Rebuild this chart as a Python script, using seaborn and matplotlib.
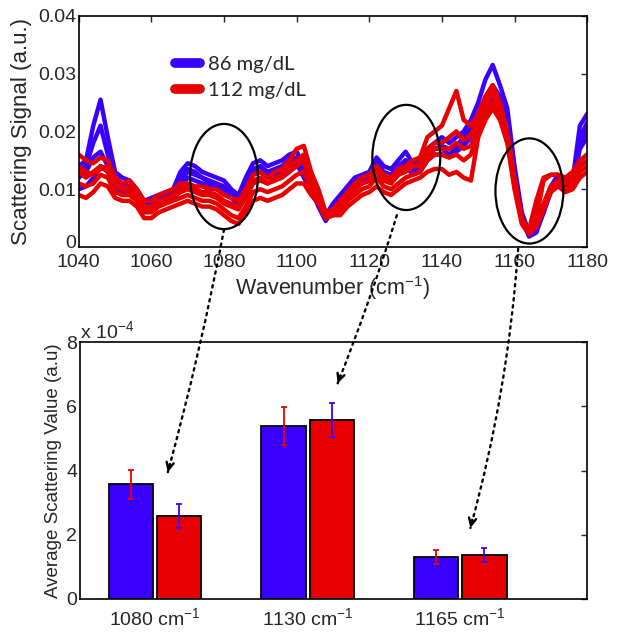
import numpy as np
import pandas as pd
import matplotlib.pyplot as plt
import seaborn as sns
from matplotlib.patches import Ellipse, ConnectionPatch
from matplotlib.transforms import ScaledTranslation

# wavenumber grid of the spectra (cm^-1)
wavenumber = np.arange(1040, 1181, 2)

# scattering spectra, in units of 1e-3 (a.u.)
blue_1 = [14, 15, 21, 25.5, 19, 13, 12, 11.5, 10, 8,
          8.5, 9, 9.5, 10, 13, 14.5, 14, 13, 12.5, 12,
          11.5, 10, 9, 12, 14.5, 15, 14, 14.5, 15, 16,
          16.5, 14, 12, 9, 5.5, 7.5, 9, 10.5, 12, 12.5,
          13, 15.5, 14, 13.5, 15, 16.5, 14.5, 15.5, 17, 18,
          19, 18, 19, 20, 22, 25, 29, 31.5, 28, 24,
          14, 6, 2.5, 3.5, 7, 10.5, 12.5, 11, 11.5, 21,
          23]
blue_2 = [13, 14, 18, 21, 16, 12, 11, 10.5, 9.5, 7.5,
          8, 8.5, 9, 9.5, 12, 13.5, 13, 12, 11.5, 11,
          10.5, 9, 8.5, 11, 13.5, 14, 13, 13.5, 14, 15,
          15.5, 13, 11, 8, 5, 7, 8.5, 10, 11.5, 12,
          12.5, 14.5, 13, 12.5, 14, 15, 13.5, 14.5, 16, 17,
          17.5, 17, 17.5, 19, 20.5, 23, 26, 28, 26, 22,
          13, 5.5, 2, 3, 6.5, 10, 12, 10.5, 11, 19,
          21.5]
blue_3 = [10, 10.5, 12, 14, 13, 10.5, 9.5, 9.5, 8.5, 7,
          7, 7.5, 8, 8.5, 10.5, 12, 11.5, 11, 10.5, 10,
          9.5, 8.5, 7.5, 10, 12.5, 13, 12, 12.5, 13, 14,
          14.5, 12, 10, 7, 4.5, 6.5, 8, 9, 10.5, 11,
          11.5, 13.5, 12, 11.5, 13, 14, 12.5, 13, 15, 16,
          16, 15.5, 16.5, 17.5, 19, 21, 24, 26, 24.5, 21,
          12, 5, 1.8, 2.5, 6, 9.5, 11.5, 10, 10.5, 17,
          19]
blue_4 = [12, 13, 15.5, 16.5, 14, 11, 10.5, 10, 9, 7.5,
          7.5, 8, 8.5, 9, 11.5, 13, 12.5, 12, 11, 10.5,
          10, 9, 8, 10.5, 13, 14, 12.5, 13, 14, 15,
          15, 12.5, 10.5, 7.5, 5, 7, 8.5, 9.5, 11, 11.5,
          12, 14, 12.5, 12, 13.5, 15, 13, 14, 15.5, 17,
          17, 16, 17, 18, 20, 22, 25, 27, 25, 22,
          12.5, 5.5, 2.2, 3, 6, 10, 12, 10.5, 11, 18,
          20]
red_1 = [16, 15, 14.5, 15.5, 15, 12, 11, 11.5, 10, 8,
         8, 9, 9.5, 10, 11, 11, 10.5, 10.5, 10, 10,
         9, 8.5, 8, 10, 12.5, 13, 12, 13, 13.5, 15,
         17, 17.5, 13, 10, 6, 6.5, 8, 9.5, 11, 12,
         12.5, 14, 12.5, 12, 13.5, 14, 15, 15.5, 19, 20,
         21, 24, 27, 22, 21, 23, 26, 28, 25, 20,
         12, 5, 2.5, 5, 11.5, 12.5, 12.5, 12, 13, 15,
         16]
red_2 = [13, 12, 13, 14, 13, 10.5, 10, 9.5, 8.5, 6.5,
         6.5, 7.5, 8, 8.5, 9.5, 10, 9.5, 9, 9, 8.5,
         7.5, 7, 6.5, 8.5, 11, 11.5, 11, 11.5, 12, 13,
         14, 15, 11, 9, 5.5, 6, 7.5, 9, 10, 11,
         11.5, 13, 11.5, 11, 12.5, 13, 14, 14.5, 17, 18,
         18, 19, 20, 18.5, 19.5, 22, 24.5, 26.5, 24, 19,
         11, 4.5, 2.5, 4, 7.5, 10.5, 11.5, 11, 12, 14,
         15]
red_3 = [9, 8.5, 9.5, 11, 10.5, 8.5, 8, 8, 7, 5,
         5, 6, 6.5, 7, 7.5, 8, 7.5, 7, 7, 6.5,
         5.5, 4.5, 4, 6, 8, 8.5, 8, 8.5, 9, 10,
         11, 11, 9, 7.5, 5, 5.5, 5.5, 7, 8, 9,
         9.5, 10.5, 9.5, 9, 10, 11, 11.5, 12, 13, 13.5,
         13.5, 12.5, 13, 12, 11.5, 19, 22, 24, 22, 18,
         10, 4, 2.2, 3.5, 6.5, 9.5, 10.5, 9.5, 10, 12,
         13]
red_4 = [11, 10.5, 11, 12.5, 12, 9.5, 9, 9, 8, 6,
         6, 7, 7.5, 8, 8.5, 9, 8.5, 8, 8, 7.5,
         6.5, 5.5, 5, 7, 9.5, 10, 9.5, 10, 10.5, 11.5,
         12.5, 13, 10, 8, 5, 5.5, 6.5, 8, 9, 10,
         10.5, 12, 10.5, 10, 11, 12, 12.5, 13, 15, 16,
         16, 15.5, 16, 15, 16, 20, 23, 25, 23, 19,
         10.5, 4.5, 2.5, 3.5, 7, 10, 11, 10, 11, 13,
         14]
red_5 = [14, 13, 12.5, 13.5, 14, 11, 10, 10.5, 9, 7,
         7, 8, 8.5, 9, 10, 10.5, 10, 9.5, 9.5, 9,
         8, 7.5, 7, 9, 11.5, 12, 11, 12, 12.5, 14,
         15, 16, 12, 9, 5.5, 6, 7, 8.5, 10, 11,
         11.5, 13.5, 12, 11.5, 12.5, 13.5, 14, 14, 16, 17,
         17, 17, 18, 17, 17.5, 21, 25, 27, 24, 19.5,
         11, 4.5, 3, 8, 12, 12.5, 12.5, 11.5, 12, 14,
         15]

groups = ['86 mg/dL', '112 mg/dL']
colors = ['#3a00ff', '#e80000']

# band averages, in units of 1e-4 (a.u.)
bands = ['1080 cm$^{-1}$', '1130 cm$^{-1}$', '1165 cm$^{-1}$']
mean_86 = [3.57, 5.39, 1.30]
mean_112 = [2.59, 5.57, 1.37]
err_86 = [0.45, 0.60, 0.23]
err_112 = [0.38, 0.53, 0.21]

sns.set_style('white')
plt.rcParams['font.family'] = ['Liberation Sans', 'DejaVu Sans']
plt.rcParams['mathtext.default'] = 'regular'

# long-form table of spectra
curves = {('86 mg/dL', 'b1'): blue_1, ('86 mg/dL', 'b2'): blue_2,
          ('86 mg/dL', 'b3'): blue_3, ('86 mg/dL', 'b4'): blue_4,
          ('112 mg/dL', 'r1'): red_1, ('112 mg/dL', 'r2'): red_2,
          ('112 mg/dL', 'r3'): red_3, ('112 mg/dL', 'r4'): red_4,
          ('112 mg/dL', 'r5'): red_5}
frames = []
for (grp, name), vals in curves.items():
    frames.append(pd.DataFrame({'wavenumber': wavenumber,
                                'signal': np.array(vals) * 1e-3,
                                'group': grp, 'curve': name}))
spectra = pd.concat(frames, ignore_index=True)

fig = plt.figure(figsize=(6.2, 6.35), dpi=100)
ax1 = fig.add_axes([0.127, 0.611, 0.82, 0.364])
ax2 = fig.add_axes([0.129, 0.057, 0.818, 0.404])

# top: spectra
sns.lineplot(data=spectra, x='wavenumber', y='signal', hue='group',
             units='curve', estimator=None, hue_order=groups,
             palette=colors, lw=3.2, ax=ax1)
ax1.set_xlim(1040, 1180)
ax1.set_ylim(0, 0.04)
ax1.set_xticks(range(1040, 1181, 20))
ax1.set_yticks([0, 0.01, 0.02, 0.03, 0.04])
ax1.set_yticklabels(['0', '0.01', '0.02', '0.03', '0.04'])
ax1.set_xlabel('Wavenumber (cm$^{-1}$)', fontsize=15.5, labelpad=2)
ax1.set_ylabel('Scattering Signal (a.u.)', fontsize=16, labelpad=4)
ax1.tick_params(direction='in', top=True, right=True, labelsize=14,
                length=4, width=1)
ax1.tick_params(axis='x', pad=5)
ax1.tick_params(axis='y', pad=2)
# lift the "0" label a little so it clears the first x label
zero_label = ax1.get_yticklabels()[0]
zero_label.set_transform(zero_label.get_transform()
                         + ScaledTranslation(0, 4 / 72, fig.dpi_scale_trans))

leg = ax1.legend(loc='upper left', bbox_to_anchor=(0.19, 0.825),
                 frameon=False, handlelength=1.2, handletextpad=0.4,
                 labelspacing=0.4, borderpad=0, borderaxespad=0,
                 prop={'family': 'Lato', 'size': 14.5})
for line in leg.get_lines():
    line.set_linewidth(7)
    line.set_solid_capstyle('round')

# regions of interest
for cx, cy in [(1080, 0.0122), (1130.2, 0.0155), (1164.1, 0.0097)]:
    ax1.add_patch(Ellipse((cx, cy), 18.7, 0.0182, fill=False,
                          edgecolor='black', lw=1.6, clip_on=False, zorder=5))

# bottom: band averages
bars = pd.DataFrame({'band': bands * 2,
                     'group': [groups[0]] * 3 + [groups[1]] * 3,
                     'value': mean_86 + mean_112})
sns.barplot(data=bars, x='band', y='value', hue='group', hue_order=groups,
            palette=colors, saturation=1, width=0.63, gap=0.08,
            edgecolor='black', linewidth=1.3, errorbar=None, legend=False,
            ax=ax2)
err_colors = [colors[1]] * 3 + [colors[0]] * 3
for bar, e, c in zip(ax2.patches, err_86 + err_112, err_colors):
    ax2.errorbar(bar.get_x() + bar.get_width() / 2, bar.get_height(),
                 yerr=e, color=c, capsize=2.5, lw=1.3, capthick=1.3)
ax2.set_xlim(-0.49, 2.83)
ax2.set_ylim(0, 8)
ax2.set_yticks([0, 2, 4, 6, 8])
ax2.set_xlabel('')
ax2.set_ylabel('Average Scattering Value (a.u)', fontsize=13.5, labelpad=3)
ax2.tick_params(axis='y', direction='in', right=True, labelsize=14,
                length=4, width=1, pad=2)
ax2.tick_params(axis='x', length=0, labelsize=14, pad=6)
ax2.text(0.0, 1.0, 'x 10$^{-4}$', transform=ax2.transAxes, fontsize=14,
         ha='left', va='bottom')

for ax in (ax1, ax2):
    for s in ax.spines.values():
        s.set_color('black')
        s.set_linewidth(1.2)

# dotted arrows from each circled region to its bar group
links = [((1080, 0.003), (0.085, 3.95), -0.02, (1.4, 5.8)),
         ((1127.6, 0.0055), (1.197, 6.72), -0.02, (2.0, 5.7)),
         ((1161, -0.0003), (2.066, 2.21), -0.05, (1.3, 5.9))]
for start, end, rad, back in links:
    cp = ConnectionPatch(xyA=start, coordsA=ax1.transData,
                         xyB=end, coordsB=ax2.transData,
                         arrowstyle='-', linestyle=(0, (1, 2)), lw=1.7,
                         color='black', connectionstyle=f'arc3,rad={rad}')
    fig.add_artist(cp)
    ax2.annotate('', xy=end, xycoords=ax2.transData, xytext=back,
                 textcoords='offset points', annotation_clip=False,
                 arrowprops=dict(arrowstyle='->', lw=1.7, color='black',
                                 mutation_scale=13, shrinkA=0, shrinkB=0))

fig.savefig('out.png', dpi=100)
